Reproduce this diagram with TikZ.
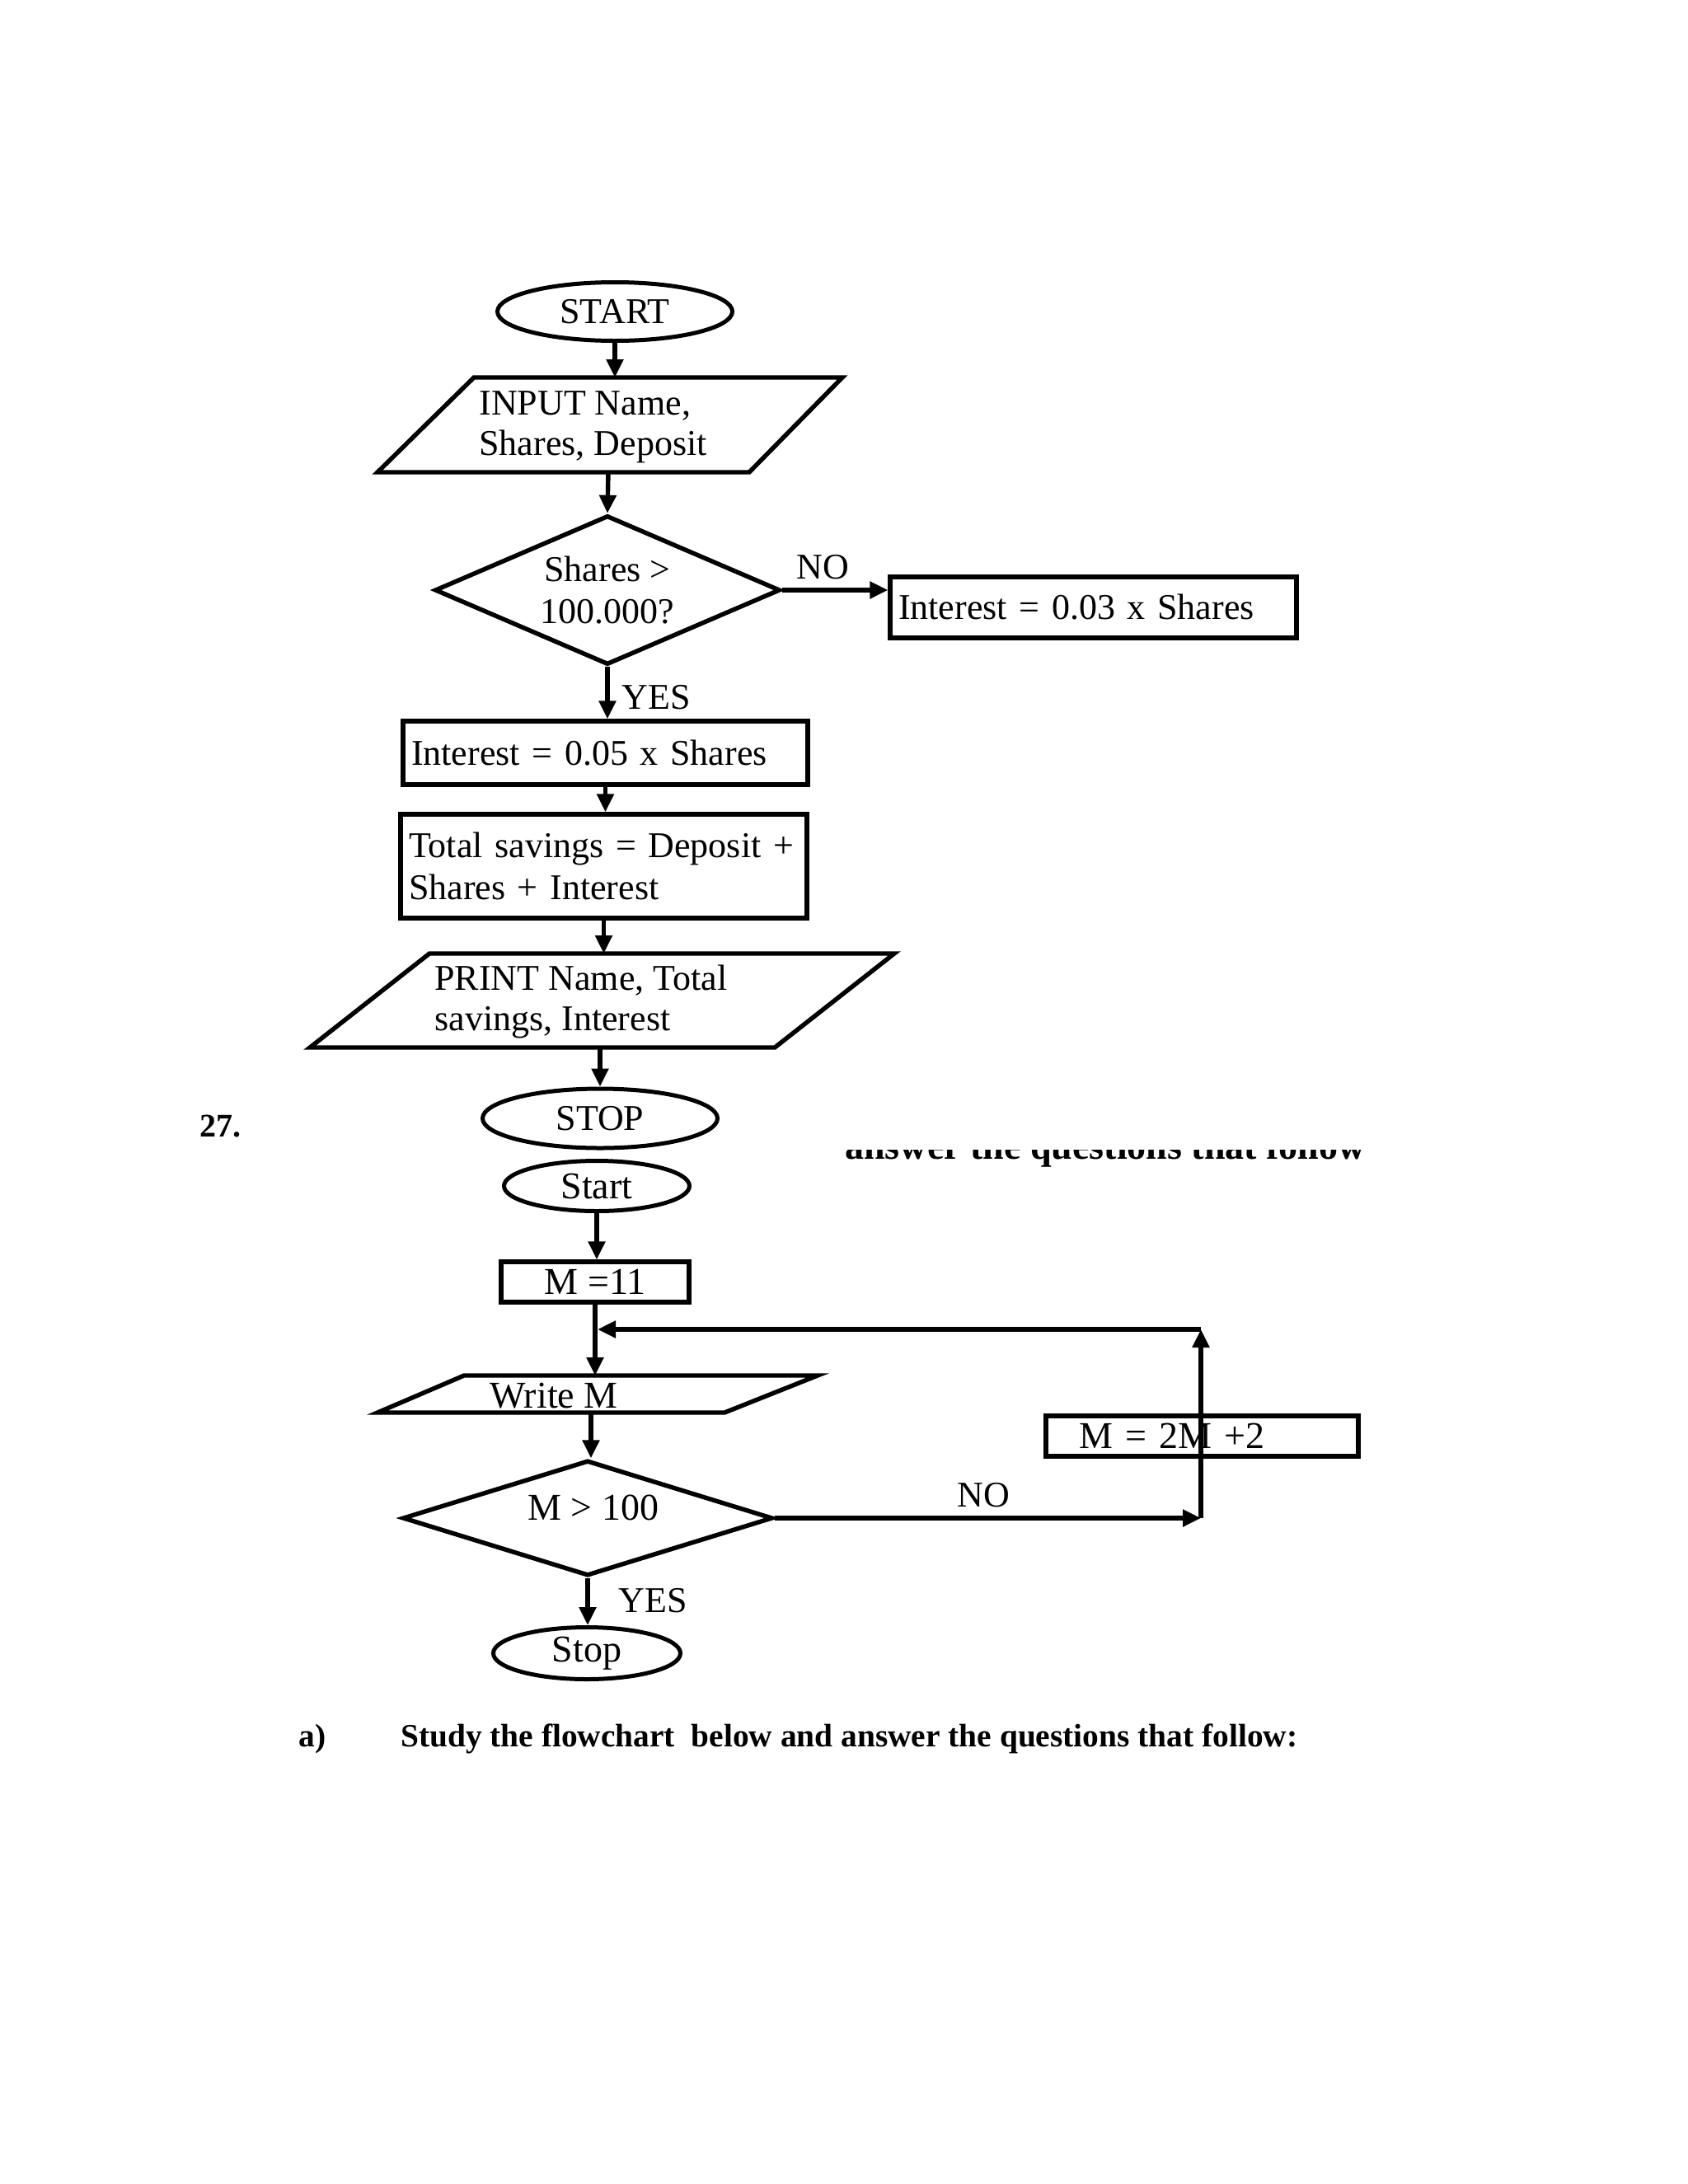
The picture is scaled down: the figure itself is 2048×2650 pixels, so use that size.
\documentclass[tikz,border=0pt]{standalone}
\usepackage{fontspec}
\setmainfont{Liberation Serif}
\usetikzlibrary{shapes.geometric,arrows.meta,calc}
\begin{document}
\begin{tikzpicture}[x=0.5pt,y=-0.5pt,
  arr/.style={line width=2.7pt,-{Triangle[length=11pt,width=10pt]}},
  term/.style={ellipse,draw,line width=2.5pt,inner sep=0pt},
  box/.style={rectangle,draw,line width=2.7pt,inner xsep=5pt,inner ysep=0pt,align=left},
  dec/.style={diamond,draw,line width=2.7pt,inner sep=0pt},
  io/.style={line width=2.7pt,line join=miter},
  ft/.style={font=\fontsize{22}{25.5}\selectfont},
  fb/.style={font=\fontsize{23}{26}\selectfont},
  lbl/.style={inner sep=0pt,anchor=base west},
  hd/.style={font=\bfseries\fontsize{19.7}{24}\selectfont,inner sep=0pt,anchor=base west},
]
\useasboundingbox[fill=white] (0,0) rectangle (2048,2650);

% ---------------- first flowchart ----------------
\node[term,ft,minimum width=142.5pt,minimum height=35.5pt] (start) at (746,378) {START};

\coordinate (inBL) at (458,573);
\coordinate (inBR) at (909,573);
\coordinate (inTR) at (1022,458);
\coordinate (inTL) at (575,458);
\coordinate (inS) at (738,573);
\draw[io] (inBL) -- (inBR) -- (inTR) -- (inTL) -- cycle;
\node[ft,lbl] (inT1) at (581,503) {INPUT Name,};
\node[ft,lbl] (inT2) at (581,552) {Shares, Deposit};
\draw[arr] (start.south) -- (start.south |- inTL);

\node[dec,ft,align=center,aspect=2.3,minimum width=209.5pt,minimum height=90.5pt] (d1) at (737,716) {Shares >\\100.000?};
\draw[arr] (inS) -- (d1.north);

\node[ft,lbl] (no1) at (966,702) {NO};
\node[box,ft,text width=236.5pt,minimum height=37pt] (b1) at (1326.5,737) {Interest = 0.03 x Shares};
\draw[arr] (d1.east) -- (d1.east -| b1.west);

\node[ft,lbl] (yes1) at (754,860) {YES};
\node[box,ft,text width=235.5pt,minimum height=38.5pt] (b2) at (734.5,913.5) {Interest = 0.05 x Shares};
\draw[arr] (d1.south) -- (d1.south |- b2.north);

\node[box,ft,text width=236.5pt,minimum height=63pt] (b3) at (732.5,1051) {Total savings = Deposit +\\Shares + Interest};
\draw[arr] (b2.south) -- (b2.south |- b3.north);

\coordinate (prBL) at (376,1271);
\coordinate (prBR) at (940,1271);
\coordinate (prTR) at (1085,1157);
\coordinate (prTL) at (521,1157);
\coordinate (prS) at (728,1271);
\draw[io] (prBL) -- (prBR) -- (prTR) -- (prTL) -- cycle;
\node[ft,lbl] (prT1) at (527,1201) {PRINT Name, Total};
\node[ft,lbl] (prT2) at (527,1250) {savings, Interest};
\draw[arr] (b3.south) -- (b3.south |- prTL);

\node[term,ft,minimum width=142.5pt,minimum height=36pt] (stop) at (728,1357) {STOP};
\draw[arr] (prS) -- (prS |- stop.north);

\node[hd,font=\bfseries\fontsize{20}{24}\selectfont] (num) at (242,1379) {27.};

\begin{scope}
  \clip (1020,1395) rectangle (1665,1416);
  \node[hd,font=\bfseries\fontsize{23}{24}\selectfont] (cut) at (1025,1406) {answer the questions that follow};
\end{scope}

% ---------------- second flowchart ----------------
\node[term,fb,minimum width=112.5pt,minimum height=30.5pt] (start2) at (724,1439) {Start};
\node[box,fb,align=center,minimum width=114pt,minimum height=24.5pt] (m11) at (722,1555.5) {M =11};
\draw[arr] (start2.south) -- (start2.south |- m11.north);

\coordinate (wmBL) at (458,1714);
\coordinate (wmBR) at (879,1714);
\coordinate (wmTR) at (992,1669);
\coordinate (wmTL) at (563,1669);
\coordinate (wmS) at (717,1714);
\draw[io] (wmBL) -- (wmBR) -- (wmTR) -- (wmTL) -- cycle;
\node[fb,lbl] (wmT) at (594,1708) {Write M};
\draw[arr] (m11.south) -- (m11.south |- wmTL);

\node[dec,aspect=3,minimum width=224.5pt,minimum height=70pt] (d2) at (713,1842) {};
\node[fb,inner sep=0pt,anchor=base] (d2t) at (720,1844) {M > 100};
\draw[arr] (wmS) -- (wmS |- d2.north);

\node[box,fb,text width=179.5pt,minimum height=24.5pt] (m2) at (1458.5,1742.5) {\hspace*{15pt}M = 2M +2};
\node[ft,lbl] (no2) at (1161,1828) {NO};
\coordinate (c1) at (1457,1842);
\coordinate (c2) at (1457,1613);
\draw[arr] (d2.east) -- (c1);
\draw[arr] (c1) -- (c2);
\draw[arr] (c2) -- ($(c2 -| m11.south)+(3,0)$);

\node[ft,lbl] (yes2) at (750,1956) {YES};
\node[term,fb,minimum width=113.5pt,minimum height=31.5pt] (stop2) at (712,2006) {Stop};
\draw[arr] (d2.south) -- (d2.south |- stop2.north);

% ---------------- question line ----------------
\node[hd] (qa) at (362,2119) {a)};
\node[hd] (qt) at (486,2119) {Study the flowchart~ below and answer the questions that follow:};
\end{tikzpicture}
\end{document}
